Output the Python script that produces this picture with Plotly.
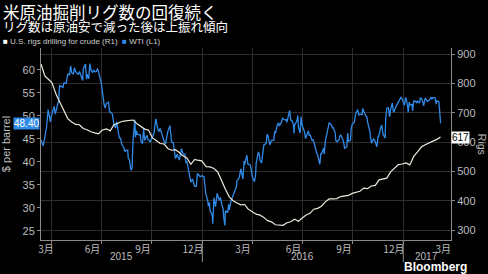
import plotly.graph_objects as go

# ---------------- data ----------------
rig_dates = ["2015-03-13","2015-03-20","2015-03-27","2015-04-02","2015-04-10","2015-04-17","2015-04-24","2015-05-01",
"2015-05-08","2015-05-15","2015-05-22","2015-05-29","2015-06-05","2015-06-12","2015-06-19","2015-06-26","2015-07-02",
"2015-07-10","2015-07-17","2015-07-24","2015-07-31","2015-08-07","2015-08-14","2015-08-21","2015-08-28","2015-09-04",
"2015-09-11","2015-09-18","2015-09-25","2015-10-02","2015-10-09","2015-10-16","2015-10-23","2015-10-30","2015-11-06",
"2015-11-13","2015-11-20","2015-11-25","2015-12-04","2015-12-11","2015-12-18","2015-12-23","2015-12-31","2016-01-08",
"2016-01-15","2016-01-22","2016-01-29","2016-02-05","2016-02-12","2016-02-19","2016-02-26","2016-03-04","2016-03-11",
"2016-03-18","2016-03-24","2016-04-01","2016-04-08","2016-04-15","2016-04-22","2016-04-29","2016-05-06","2016-05-13",
"2016-05-20","2016-05-27","2016-06-03","2016-06-10","2016-06-17","2016-06-24","2016-07-01","2016-07-08","2016-07-15",
"2016-07-22","2016-07-29","2016-08-05","2016-08-12","2016-08-19","2016-08-26","2016-09-02","2016-09-09","2016-09-16",
"2016-09-23","2016-09-30","2016-10-07","2016-10-14","2016-10-21","2016-10-28","2016-11-04","2016-11-11","2016-11-18",
"2016-11-23","2016-12-02","2016-12-09","2016-12-16","2016-12-23","2016-12-30","2017-01-06","2017-01-13","2017-01-20",
"2017-01-27","2017-02-03","2017-02-10","2017-02-17","2017-02-24","2017-03-03","2017-03-10"]
rig_values = [866,825,813,802,760,734,703,679,668,660,659,646,642,635,631,628,640,645,638,659,664,670,672,674,675,662,
652,644,640,614,605,595,594,578,572,574,564,555,545,524,541,538,536,516,515,510,498,467,439,413,400,392,386,387,372,
362,354,351,343,332,328,318,318,316,325,328,337,330,341,351,357,371,374,381,396,406,406,407,414,416,418,425,428,432,
443,441,450,452,471,474,477,498,510,523,525,529,522,551,566,583,591,597,602,609,617]

wti_dates = ["2015-03-13","2015-03-17","2015-03-19","2015-03-23","2015-03-26","2015-03-30","2015-04-01","2015-04-06",
"2015-04-08","2015-04-10","2015-04-14","2015-04-16","2015-04-20","2015-04-22","2015-04-24","2015-04-28","2015-05-01",
"2015-05-04","2015-05-06","2015-05-08","2015-05-11","2015-05-13","2015-05-15","2015-05-18","2015-05-20","2015-05-22",
"2015-05-26","2015-05-28","2015-05-29","2015-06-02","2015-06-04","2015-06-05","2015-06-08","2015-06-10","2015-06-12",
"2015-06-15","2015-06-17","2015-06-19","2015-06-22","2015-06-24","2015-06-26","2015-06-29","2015-07-01","2015-07-06",
"2015-07-08","2015-07-10","2015-07-14","2015-07-16","2015-07-17","2015-07-21","2015-07-22","2015-07-24","2015-07-27",
"2015-07-29","2015-07-31","2015-08-03","2015-08-05","2015-08-07","2015-08-11","2015-08-13","2015-08-14","2015-08-18",
"2015-08-19","2015-08-21","2015-08-24","2015-08-26","2015-08-27","2015-08-28","2015-08-31","2015-09-01","2015-09-03",
"2015-09-04","2015-09-08","2015-09-10","2015-09-11","2015-09-14","2015-09-16","2015-09-18","2015-09-22","2015-09-24",
"2015-09-28","2015-09-30","2015-10-02","2015-10-05","2015-10-07","2015-10-08","2015-10-12","2015-10-14","2015-10-16",
"2015-10-19","2015-10-21","2015-10-23","2015-10-26","2015-10-28","2015-10-30","2015-11-03","2015-11-04","2015-11-06",
"2015-11-09","2015-11-11","2015-11-13","2015-11-16","2015-11-18","2015-11-20","2015-11-24","2015-11-27","2015-11-30",
"2015-12-02","2015-12-04","2015-12-07","2015-12-09","2015-12-11","2015-12-14","2015-12-16","2015-12-18","2015-12-21",
"2015-12-23","2015-12-28","2015-12-31",
"2016-01-04","2016-01-06","2016-01-07","2016-01-11","2016-01-12","2016-01-14","2016-01-15","2016-01-19","2016-01-20",
"2016-01-21","2016-01-22","2016-01-25","2016-01-27","2016-01-28","2016-02-01","2016-02-03","2016-02-05","2016-02-08",
"2016-02-09","2016-02-11","2016-02-12","2016-02-16","2016-02-18","2016-02-19","2016-02-22","2016-02-24","2016-02-26",
"2016-03-01","2016-03-03","2016-03-04","2016-03-08","2016-03-10","2016-03-11","2016-03-15","2016-03-17","2016-03-18",
"2016-03-22","2016-03-24","2016-03-28","2016-03-30","2016-04-01","2016-04-05","2016-04-07","2016-04-08","2016-04-12",
"2016-04-14","2016-04-15","2016-04-18","2016-04-20","2016-04-22","2016-04-26","2016-04-28","2016-04-29","2016-05-03",
"2016-05-05","2016-05-06","2016-05-10","2016-05-12","2016-05-13","2016-05-17","2016-05-19","2016-05-20","2016-05-24",
"2016-05-26","2016-05-31","2016-06-02","2016-06-03","2016-06-07","2016-06-08","2016-06-10","2016-06-13","2016-06-15",
"2016-06-16","2016-06-17","2016-06-21","2016-06-23","2016-06-24","2016-06-27","2016-06-29","2016-06-30","2016-07-05",
"2016-07-07","2016-07-08","2016-07-12","2016-07-14","2016-07-15","2016-07-19","2016-07-21","2016-07-25","2016-07-27",
"2016-07-29","2016-08-02","2016-08-04","2016-08-05","2016-08-09","2016-08-10","2016-08-12","2016-08-16","2016-08-17",
"2016-08-19","2016-08-23","2016-08-25","2016-08-26","2016-08-30","2016-08-31","2016-09-02","2016-09-06","2016-09-07",
"2016-09-09","2016-09-13","2016-09-15","2016-09-16","2016-09-20","2016-09-22","2016-09-23","2016-09-27","2016-09-28",
"2016-09-30","2016-10-04","2016-10-06","2016-10-10","2016-10-12","2016-10-14","2016-10-18","2016-10-19","2016-10-21",
"2016-10-25","2016-10-27","2016-10-28","2016-11-01","2016-11-02","2016-11-04","2016-11-08","2016-11-10","2016-11-14",
"2016-11-16","2016-11-17","2016-11-21","2016-11-23","2016-11-25","2016-11-29","2016-11-30","2016-12-02","2016-12-05",
"2016-12-07","2016-12-09","2016-12-12","2016-12-14","2016-12-15","2016-12-19","2016-12-21","2016-12-23","2016-12-28",
"2016-12-30",
"2017-01-03","2017-01-05","2017-01-06","2017-01-09","2017-01-10","2017-01-12","2017-01-13","2017-01-17","2017-01-18",
"2017-01-20","2017-01-24","2017-01-25","2017-01-27","2017-01-31","2017-02-01","2017-02-03","2017-02-06","2017-02-07",
"2017-02-09","2017-02-10","2017-02-14","2017-02-16","2017-02-17","2017-02-21","2017-02-22","2017-02-24","2017-02-28",
"2017-03-02","2017-03-03","2017-03-07","2017-03-08","2017-03-09","2017-03-10"]
wti_values = [44.8,43.5,44.7,47.5,51.4,48.7,50.1,52.1,50.4,51.6,53.3,56.7,56.4,56.2,57.2,57.1,59.2,58.9,60.9,59.4,59.1,
60.5,59.7,59.4,59.0,59.7,58.0,57.7,60.3,61.3,58.0,59.1,58.1,61.4,60.0,59.5,60.0,59.6,59.7,60.3,59.6,58.3,57.0,52.5,
51.7,52.7,53.0,50.9,50.9,50.4,49.2,48.1,47.4,48.8,47.1,45.2,45.2,43.9,43.1,42.2,42.5,42.6,40.8,40.5,38.2,38.6,42.6,
45.2,49.2,45.4,46.8,46.1,45.9,45.9,44.6,44.0,47.2,44.7,45.8,44.9,44.4,45.1,45.5,46.3,48.0,49.4,47.1,46.6,47.3,45.9,
45.2,44.6,44.0,45.9,46.6,47.9,46.3,44.3,44.2,42.9,40.7,41.7,40.8,40.4,42.9,41.7,41.7,39.9,40.0,37.7,37.2,35.6,36.3,
35.5,34.7,34.7,37.5,36.8,37.0,
36.8,34.0,33.3,31.4,30.4,31.2,29.4,28.5,26.6,29.5,32.2,30.3,32.3,33.2,31.6,32.3,30.9,29.7,27.9,26.2,29.4,29.0,30.8,
29.6,31.5,32.2,32.8,34.4,34.6,35.9,36.5,37.8,38.5,36.3,40.2,39.4,41.5,39.5,39.4,38.3,36.8,35.7,37.3,39.7,42.2,41.5,
40.4,39.8,42.6,43.7,44.0,46.0,45.9,43.7,44.3,44.7,44.7,46.7,46.2,48.3,48.5,47.8,48.6,49.5,49.1,49.2,48.6,50.4,51.2,
49.1,48.9,48.0,46.2,48.0,48.9,50.1,47.6,46.3,49.9,48.3,46.6,45.1,45.4,46.8,45.7,46.0,44.7,44.8,43.1,41.9,41.6,39.5,
41.9,41.8,43.0,41.7,44.5,46.6,46.8,48.5,48.1,47.3,47.6,46.4,44.7,44.4,44.8,45.5,45.9,44.9,43.9,43.0,43.3,46.3,44.5,
44.7,47.1,48.2,48.7,50.4,51.4,50.2,50.4,50.3,51.6,50.9,50.0,49.7,48.7,46.7,45.3,44.1,45.0,44.7,43.3,45.6,45.4,47.5,
48.0,46.1,45.2,49.4,51.7,51.8,49.8,51.5,52.8,51.0,50.9,52.1,52.5,53.0,54.1,53.7,
52.3,53.8,54.0,52.0,50.8,53.0,52.4,52.5,51.1,53.2,53.2,52.8,53.2,52.8,53.9,53.8,53.0,52.2,53.0,53.9,53.2,53.4,53.4,
54.1,53.6,54.0,54.0,52.6,53.3,53.1,50.3,49.3,48.4]

month_tick_vals = ["2015-03-22","2015-06-15","2015-09-15","2015-12-15","2016-03-15","2016-06-15","2016-09-15",
                   "2016-12-15","2017-03-15"]
month_tick_text = ["3月","6月","9月","12月","3月","6月","9月","12月","3月"]
year_pos = ["2015-08-07","2016-07-01","2017-02-13"]
year_text = ["2015","2016","2017"]
year_breaks = ["2016-01-01","2017-01-01"]

title = "米原油掘削リグ数の回復続く"
subtitle = "リグ数は原油安で減った後は上振れ傾向"

WTI_COLOR = "#2f8ae8"
RIG_COLOR = "#efe9dc"
TICK_COLOR = "#bdbdbd"
CJK = "Noto Sans CJK JP"
LAT = "Liberation Sans"

fig = go.Figure()
fig.add_trace(go.Scatter(x=rig_dates, y=rig_values, yaxis="y2", mode="lines",
                         line=dict(color=RIG_COLOR, width=1.2), showlegend=False))
fig.add_trace(go.Scatter(x=wti_dates, y=wti_values, yaxis="y", mode="lines",
                         line=dict(color=WTI_COLOR, width=1.3), showlegend=False))

fig.update_layout(
    width=488, height=274, autosize=False,
    margin=dict(l=41, r=37, t=48, b=34),
    paper_bgcolor="black", plot_bgcolor="black",
    font=dict(family=LAT, color=TICK_COLOR, size=10),
    xaxis=dict(type="date", range=["2015-03-13", "2017-03-29"],
               tickvals=month_tick_vals, ticktext=month_tick_text,
               showgrid=False, ticks="", showline=True, linecolor="#8a8a8a", linewidth=1,
               tickfont=dict(family=CJK, size=10, color=TICK_COLOR), zeroline=False,
               minor=dict(dtick="M3", tick0="2015-01-01", showgrid=True, gridcolor="#2e2e2e",
                          gridwidth=1, ticks="outside", ticklen=3, tickcolor="#8a8a8a")),
    yaxis=dict(range=[23.04, 64.78], tickvals=[25, 30, 35, 40, 45, 50, 55, 60],
               showgrid=False, zeroline=False, showline=True, linecolor="#8a8a8a",
               ticks="outside", ticklen=3, tickcolor="#8a8a8a",
               tickfont=dict(family=LAT, size=11, color=TICK_COLOR)),
    yaxis2=dict(range=[266, 920.5], tickvals=[300, 400, 500, 600, 700, 800, 900],
                overlaying="y", side="right", showgrid=True, gridcolor="#2e2e2e", zeroline=False,
                showline=True, linecolor="#8a8a8a", ticks="outside", ticklen=3, tickcolor="#8a8a8a",
                tickfont=dict(family=LAT, size=11, color=TICK_COLOR)),
)

for d in year_breaks:
    fig.add_shape(type="line", xref="x", yref="paper", x0=d, x1=d, y0=0, y1=-0.115,
                  line=dict(color="#8a8a8a", width=1))

ann = []
ann.append(dict(text=title, xref="paper", yref="paper", x=-0.097, y=1.19, xanchor="left", yanchor="middle",
                showarrow=False, font=dict(family=CJK, size=16.5, color="white")))
ann.append(dict(text=subtitle, xref="paper", yref="paper", x=-0.097, y=1.113, xanchor="left", yanchor="middle",
                showarrow=False, font=dict(family=CJK, size=12.5, color="white")))
ann.append(dict(text=f"<span style='color:white'>■</span> U.S. rigs drilling for crude (R1)  "
                     f"<span style='color:{WTI_COLOR}'>■</span> WTI (L1)",
                xref="paper", yref="paper", x=-0.097, y=1.036, xanchor="left", yanchor="middle",
                showarrow=False, font=dict(family=LAT, size=8, color="#cfcfcf")))
ann.append(dict(text="$ per barrel", xref="paper", yref="paper", x=-0.085, y=0.5, textangle=-90,
                xanchor="center", yanchor="middle", showarrow=False,
                font=dict(family=LAT, size=11, color=TICK_COLOR)))
ann.append(dict(text="Rigs", xref="paper", yref="paper", x=1.076, y=0.5, textangle=90,
                xanchor="center", yanchor="middle", showarrow=False,
                font=dict(family=LAT, size=10.5, color=TICK_COLOR)))
ann.append(dict(text=f"{wti_values[-1]:.2f}", xref="paper", yref="y", x=-0.003, y=wti_values[-1],
                xanchor="right", yanchor="middle", showarrow=False, bgcolor=WTI_COLOR, borderpad=0,
                font=dict(family=LAT, size=10, color="white")))
ann.append(dict(text=f"{rig_values[-1]}", xref="paper", yref="y2", x=1.0, y=rig_values[-1],
                xanchor="left", yanchor="middle", showarrow=False, bgcolor="white", borderpad=0,
                font=dict(family=LAT, size=10, color="black")))
for p, t in zip(year_pos, year_text):
    ann.append(dict(text=t, xref="x", yref="paper", x=p, y=-0.085, xanchor="center", yanchor="middle",
                    showarrow=False, font=dict(family=LAT, size=10, color=TICK_COLOR)))
ann.append(dict(text="<b>Bloomberg</b>", xref="paper", yref="paper", x=1.045, y=-0.143,
                xanchor="right", yanchor="middle", showarrow=False,
                font=dict(family=LAT, size=12, color="white")))
fig.update_layout(annotations=ann)

fig.write_html("out.html")
